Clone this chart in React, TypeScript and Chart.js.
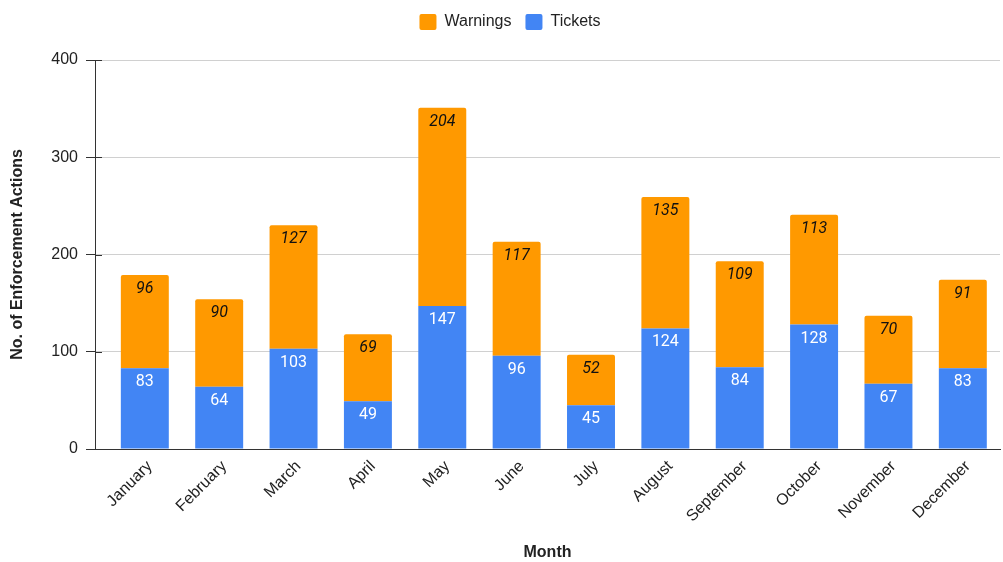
import React, { useEffect, useRef } from "react";
import { Chart, registerables } from "chart.js";

Chart.register(...registerables);

const months = ["January", "February", "March", "April", "May", "June", "July", "August", "September", "October", "November", "December"];
const tickets = [83, 64, 103, 49, 147, 96, 45, 124, 84, 128, 67, 83];
const warnings = [96, 90, 127, 69, 204, 117, 52, 135, 109, 113, 70, 91];
const yTicks = [0, 100, 200, 300, 400];

const BLUE = "#4285F4";
const ORANGE = "#FF9900";
const TEXT = "#222222";
const FONT = "'Liberation Sans', Arial, sans-serif";

const labelPlugin = {
  id: "barLabels",
  afterDatasetsDraw(chart: any) {
    const ctx = chart.ctx;
    ctx.save();
    chart.data.datasets.forEach((ds: any, di: number) => {
      const meta = chart.getDatasetMeta(di);
      if (meta.hidden) return;
      meta.data.forEach((el: any, i: number) => {
        const v = ds.data[i].y;
        ctx.font = (di === 1 ? "italic " : "") + "16px Roboto, 'Liberation Sans', sans-serif";
        ctx.fillStyle = di === 1 ? "#111111" : "#ffffff";
        ctx.textAlign = "center";
        ctx.textBaseline = "middle";
        ctx.fillText(String(v), el.x, el.y + 14);
      });
    });
    ctx.restore();
  },
};

const tickInnerPlugin = {
  id: "tickInner",
  afterDraw(chart: any) {
    const ctx = chart.ctx;
    const y = chart.scales.y;
    const left = chart.chartArea.left;
    ctx.save();
    ctx.strokeStyle = "#333333";
    ctx.lineWidth = 1;
    y.ticks.forEach((t: any) => {
      const py = Math.round(y.getPixelForValue(t.value)) + 0.5;
      ctx.beginPath();
      ctx.moveTo(left, py);
      ctx.lineTo(left + 7, py);
      ctx.stroke();
    });
    ctx.restore();
  },
};

const legendSpacePlugin = {
  id: "legendSpace",
  beforeLayout(chart: any) {
    const legend = chart.legend;
    if (legend && !legend.__patched) {
      const orig = legend.fit;
      legend.fit = function (this: any) {
        orig.call(this);
        this.height += 20;
      };
      legend.__patched = true;
    }
  },
  afterLayout(chart: any) {
    const legend = chart.legend;
    if (legend) {
      legend.left += 10;
      legend.right += 10;
    }
  },
};

export default function App() {
  const ref = useRef<HTMLCanvasElement>(null);
  useEffect(() => {
    if (!ref.current) return;
    const chart = new Chart(ref.current, {
      type: "bar",
      data: {
        datasets: [
          {
            label: "Tickets",
            data: tickets.map((v, i) => ({ x: i, y: v })),
            backgroundColor: BLUE,
            borderWidth: 0,
          },
          {
            label: "Warnings",
            data: warnings.map((v, i) => ({ x: i, y: v })),
            backgroundColor: ORANGE,
            borderWidth: 0,
            borderRadius: { topLeft: 2, topRight: 2, bottomLeft: 0, bottomRight: 0 },
            borderSkipped: false,
          },
        ],
      } as any,
      options: {
        responsive: false,
        animation: false,
        layout: { padding: { left: 0, right: 3, top: 0, bottom: 0 } },
        datasets: { bar: { categoryPercentage: 1, barPercentage: 0.645 } } as any,
        plugins: {
          tooltip: { enabled: false },
          legend: {
            position: "top",
            reverse: true,
            labels: {
              boxWidth: 17,
              boxHeight: 16,
              useBorderRadius: true,
              borderRadius: 2,
              padding: 14,
              color: TEXT,
              font: { family: FONT, size: 16 },
            },
          },
        },
        scales: {
          x: {
            type: "linear",
            stacked: true,
            min: -0.67,
            max: 11.5,
            offset: false,
            afterBuildTicks: (scale: any) => {
              scale.ticks = months.map((_, i) => ({ value: i }));
            },
            afterFit: (scale: any) => {
              scale.height = 113;
            },
            grid: { display: false, drawTicks: false, offset: false },
            border: { display: true, color: "#333333", width: 1 },
            ticks: {
              autoSkip: false,
              minRotation: 45,
              maxRotation: 45,
              padding: 8,
              labelOffset: 5,
              color: TEXT,
              font: { family: FONT, size: 16 },
              callback: (v: any) => months[v] ?? "",
            },
            title: {
              display: true,
              text: "Month",
              color: TEXT,
              font: { family: FONT, size: 16, weight: "bold" },
              padding: { top: 0, bottom: 0 },
            },
          } as any,
          y: {
            stacked: true,
            min: 0,
            max: 400,
            afterBuildTicks: (scale: any) => {
              scale.ticks = yTicks.map((v) => ({ value: v }));
            },
            afterFit: (scale: any) => {
              scale.width = 95;
            },
            grid: { color: "#d0d0d0", tickColor: "#333333", tickLength: 9 },
            border: { display: true, color: "#333333", width: 1 },
            ticks: {
              padding: 8,
              color: TEXT,
              font: { family: FONT, size: 16 },
            },
            title: {
              display: true,
              text: "No. of Enforcement Actions",
              color: TEXT,
              font: { family: FONT, size: 16, weight: "bold" },
              padding: { top: 8, bottom: 0 },
            },
          } as any,
        },
      },
      plugins: [labelPlugin, tickInnerPlugin, legendSpacePlugin],
    });
    return () => chart.destroy();
  }, []);
  return (
    <div style={{ position: "absolute", left: 0, top: 0, width: 1003, height: 562, background: "#fff" }}>
      <canvas ref={ref} width={1003} height={562} />
    </div>
  );
}
